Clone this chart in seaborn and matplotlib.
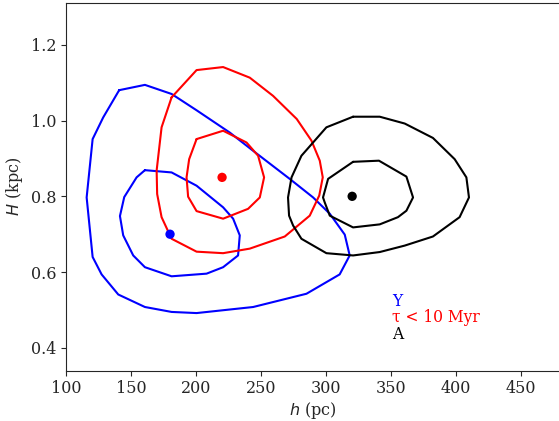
import matplotlib
matplotlib.use("Agg")
import matplotlib.pyplot as plt
import seaborn as sns

# contornos (h en pc, H en kpc)
blue_outer_h = [140.9, 160.7, 181.2, 200.4, 226.0, 243.9, 272.0, 290.0, 302.8, 314.3, 318.1,
                310.4, 284.9, 243.9, 200.4, 181.2, 160.7, 140.2, 127.4, 120.5, 115.9, 120.5, 128.6]
blue_outer_H = [1.080, 1.094, 1.070, 1.027, 0.968, 0.920, 0.846, 0.797, 0.754, 0.699, 0.644,
                0.594, 0.543, 0.508, 0.492, 0.495, 0.508, 0.541, 0.594, 0.640, 0.797, 0.951, 1.008]
blue_inner_h = [160.7, 181.2, 200.4, 220.8, 228.5, 233.6, 232.3, 220.8, 208.1, 181.2, 160.7,
                151.7, 144.0, 141.5, 144.8, 154.3]
blue_inner_H = [0.869, 0.863, 0.828, 0.771, 0.741, 0.697, 0.644, 0.613, 0.596, 0.589, 0.613,
                0.644, 0.697, 0.748, 0.798, 0.850]

red_outer_h = [181.2, 200.4, 220.8, 241.3, 259.2, 277.4, 288.7, 295.1, 297.4, 294.7, 287.4,
               268.2, 241.3, 220.8, 200.4, 181.2, 173.5, 170.1, 169.7, 173.5]
red_outer_H = [1.061, 1.133, 1.141, 1.113, 1.065, 1.004, 0.947, 0.894, 0.850, 0.802, 0.749,
               0.694, 0.662, 0.650, 0.654, 0.688, 0.745, 0.806, 0.868, 0.982]
red_inner_h = [200.4, 220.8, 238.8, 247.7, 252.3, 249.0, 240.0, 220.8, 200.4, 193.9, 192.7, 194.7]
red_inner_H = [0.951, 0.973, 0.942, 0.907, 0.850, 0.797, 0.767, 0.741, 0.761, 0.799, 0.850, 0.898]

black_outer_h = [320.7, 341.2, 360.4, 382.1, 398.8, 407.8, 409.8, 402.6, 382.1, 360.4, 341.2,
                 320.7, 300.2, 281.0, 274.6, 271.5, 270.7, 273.4, 281.0, 300.2]
black_outer_H = [1.010, 1.010, 0.992, 0.954, 0.898, 0.850, 0.797, 0.745, 0.694, 0.670, 0.653,
                 0.644, 0.650, 0.688, 0.723, 0.749, 0.797, 0.850, 0.907, 0.982]
black_inner_h = [320.7, 340.6, 361.7, 366.8, 361.7, 355.2, 341.2, 320.7, 302.8, 298.9, 297.6, 301.5]
black_inner_H = [0.891, 0.894, 0.852, 0.797, 0.762, 0.745, 0.726, 0.718, 0.749, 0.784, 0.797, 0.846]

# picos
peak_h = [180, 220, 320]
peak_H = [0.70, 0.85, 0.80]
colores = ["blue", "red", "black"]

etiquetas = ["Y", "τ < 10 Myr", "A"]
etiqueta_H = [0.522, 0.479, 0.436]

sns.set_style("ticks")
plt.rcParams["font.family"] = ["DejaVu Serif"]
plt.rcParams["mathtext.fontset"] = "dejavusans"
plt.rcParams["font.size"] = 11.5

fig = plt.figure(figsize=(5.59, 4.21), dpi=100)
ax = fig.add_axes([0.118, 0.1195, 0.882, 0.8734])

contornos = [
    (blue_outer_h, blue_outer_H, "blue"),
    (blue_inner_h, blue_inner_H, "blue"),
    (red_outer_h, red_outer_H, "red"),
    (red_inner_h, red_inner_H, "red"),
    (black_outer_h, black_outer_H, "black"),
    (black_inner_h, black_inner_H, "black"),
]
for hs, Hs, c in contornos:
    sns.lineplot(x=hs + hs[:1], y=Hs + Hs[:1], sort=False, estimator=None,
                 color=c, linewidth=1.5, ax=ax)

for i in range(3):
    sns.scatterplot(x=[peak_h[i]], y=[peak_H[i]], color=colores[i], s=45,
                    edgecolor="none", ax=ax, zorder=3)

for txt, yy, c in zip(etiquetas, etiqueta_H, colores):
    ax.text(350.5, yy, txt, color=c, fontsize=11.2, ha="left", va="center")

ax.set_xlim(100, 479)
ax.set_ylim(0.34, 1.31)
ax.set_xticks([100, 150, 200, 250, 300, 350, 400, 450])
ax.set_yticks([0.4, 0.6, 0.8, 1.0, 1.2])
ax.tick_params(labelsize=11.5, top=False, right=False)
ax.set_xlabel(r"$h$ (pc)", fontsize=11.5, labelpad=2)
ax.set_ylabel(r"$H$ (kpc)", fontsize=11.5)
ax.spines["right"].set_visible(False)

plt.savefig("out.png", dpi=100)
